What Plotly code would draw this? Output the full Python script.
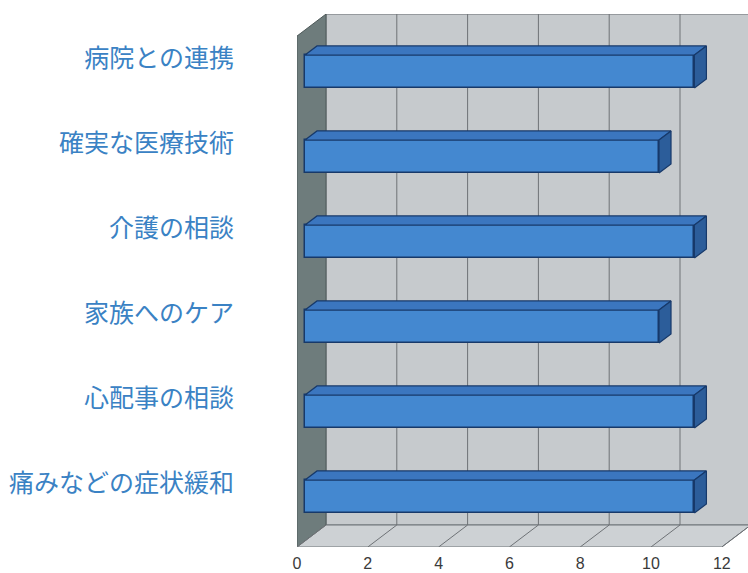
import plotly.graph_objects as go

# ---- data ----
categories = ["病院との連携", "確実な医療技術", "介護の相談", "家族へのケア", "心配事の相談", "痛みなどの症状緩和"]
values = [11, 10, 11, 10, 11, 11]
x_ticks = [0, 2, 4, 6, 8, 10, 12]

# ---- pseudo-3D geometry (in axis units) ----
PX_X = 35.4          # px per value unit
PX_Y = 85.0          # px per category step
DX = 29 / PX_X       # depth offset in x units
DY = 22 / PX_Y       # depth offset in y units
Y0 = -0.522          # floor (front plane)
Y1 = 5.489           # wall top (front plane)
XMAX = 12
D_FRONT = 0.276      # bar front depth fraction
D_BACK = 0.69        # bar back depth fraction
BAR_H = 33 / PX_Y

n = len(categories)
ypos = [n - 1 - k for k in range(n)]


def path(pts):
    return "M " + " L ".join(f"{x},{y}" for x, y in pts) + " Z"


shapes = []
# back wall
shapes.append(dict(type="path", xref="x", yref="y", layer="below",
                   path=path([(DX, Y0 + DY), (XMAX + DX, Y0 + DY), (XMAX + DX, Y1 + DY), (DX, Y1 + DY)]),
                   fillcolor="#c6cacd", line=dict(color="#6f7478", width=1)))
# left wall
shapes.append(dict(type="path", xref="x", yref="y", layer="below",
                   path=path([(0, Y0), (DX, Y0 + DY), (DX, Y1 + DY), (0, Y1)]),
                   fillcolor="#6e7c7c", line=dict(color="#4f5a5a", width=1)))
# floor
shapes.append(dict(type="path", xref="x", yref="y", layer="below",
                   path=path([(0, Y0), (XMAX, Y0), (XMAX + DX, Y0 + DY), (DX, Y0 + DY)]),
                   fillcolor="#cdd1d4", line=dict(color="#6f7478", width=1)))
# gridlines
for v in x_ticks:
    if 0 < v:
        shapes.append(dict(type="line", xref="x", yref="y", layer="below",
                           x0=v + DX, y0=Y0 + DY, x1=v + DX, y1=Y1 + DY,
                           line=dict(color="#6e7276", width=1)))
    shapes.append(dict(type="line", xref="x", yref="y", layer="below",
                       x0=v, y0=Y0, x1=v + DX, y1=Y0 + DY,
                       line=dict(color="#6e7276", width=1)))

fig = go.Figure()

# bar front faces
fig.add_trace(go.Bar(
    orientation="h",
    y=[y + D_FRONT * DY for y in ypos],
    x=values,
    base=D_FRONT * DX,
    width=BAR_H,
    marker=dict(color="#4488d0", line=dict(color="#17396a", width=1.5)),
    hoverinfo="skip", showlegend=False,
))

dd = D_BACK - D_FRONT
top_x, top_y, side_x, side_y = [], [], [], []
for y, v in zip(ypos, values):
    yc = y + D_FRONT * DY
    top = yc + BAR_H / 2
    bot = yc - BAR_H / 2
    b = D_FRONT * DX
    e = v + b
    top_x += [b, e, e + dd * DX, b + dd * DX, b, None]
    top_y += [top, top, top + dd * DY, top + dd * DY, top, None]
    side_x += [e, e, e + dd * DX, e + dd * DX, e, None]
    side_y += [bot, top, top + dd * DY, bot + dd * DY, bot, None]

fig.add_trace(go.Scatter(x=top_x, y=top_y, mode="lines", fill="toself",
                         fillcolor="#3b76bf", line=dict(color="#17396a", width=1.2),
                         hoverinfo="skip", showlegend=False))
fig.add_trace(go.Scatter(x=side_x, y=side_y, mode="lines", fill="toself",
                         fillcolor="#2c5d9a", line=dict(color="#17396a", width=1.2),
                         hoverinfo="skip", showlegend=False))

plot_w = 748 - 297
plot_h = 573 - 14 - 26
fig.update_layout(
    width=748, height=573,
    margin=dict(l=297, r=0, t=14, b=26, pad=0),
    paper_bgcolor="white", plot_bgcolor="white",
    shapes=shapes,
    showlegend=False,
    bargap=0,
    xaxis=dict(range=[0, plot_w / PX_X], tickvals=x_ticks, ticktext=[str(t) for t in x_ticks],
               showgrid=False, zeroline=False, showline=False, ticks="", automargin=False,
               tickfont=dict(family="Liberation Sans, Arial", size=16, color="#3a3a3a"),
               ticklabelstandoff=5, fixedrange=True),
    yaxis=dict(range=[Y0, Y0 + plot_h / PX_Y], automargin=False,
               tickvals=[y + 0.5 * DY + 0.1 for y in ypos], ticktext=categories,
               showgrid=False, zeroline=False, showline=False, ticks="",
               tickfont=dict(family="Noto Sans CJK JP", size=25, color="#3a82c4"),
               ticklabelstandoff=62, fixedrange=True),
)

fig.write_html("out.html", config={"displayModeBar": False},
               post_script="document.body.style.margin='0';document.body.style.overflow='hidden';")
